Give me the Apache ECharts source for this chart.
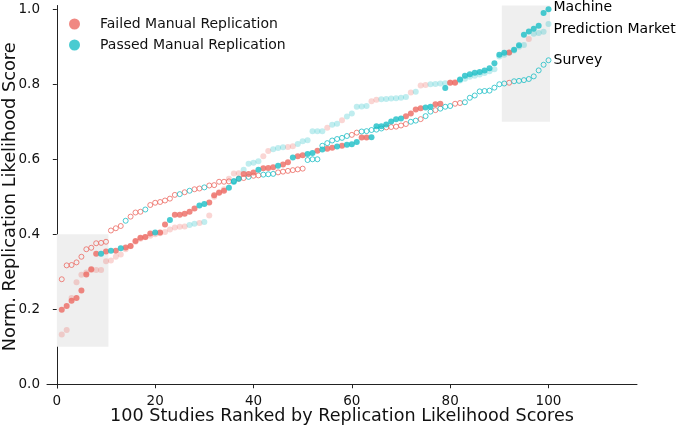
<!DOCTYPE html>
<html><head><meta charset="utf-8">
<script src="https://cdn.jsdelivr.net/npm/echarts@6/dist/echarts.min.js"></script>
<style>html,body{margin:0;padding:0;background:#fff}#c{width:677px;height:427px}</style>
</head><body><div id="c"></div>
<script>
const xTicks = [0, 20, 40, 60, 80, 100];
const yTicks = [0, 0.2, 0.4, 0.6, 0.8, 1.0];
const legendNames = ['Failed Manual Replication', 'Passed Manual Replication'];
const layerNames = ['Machine', 'Prediction Market', 'Survey'];

const machineScores = [0.199,0.209,0.223,0.23,0.25,0.293,0.307,0.348,0.348,0.354,
0.356,0.356,0.363,0.365,0.369,0.382,0.391,0.393,0.402,0.405,
0.405,0.426,0.438,0.452,0.452,0.455,0.46,0.469,0.477,0.481,
0.485,0.504,0.511,0.516,0.524,0.54,0.548,0.561,0.561,0.565,
0.572,0.576,0.577,0.579,0.583,0.586,0.592,0.605,0.608,0.611,
0.614,0.617,0.623,0.626,0.628,0.631,0.634,0.636,0.639,0.64,
0.646,0.658,0.658,0.659,0.688,0.688,0.693,0.701,0.707,0.709,
0.715,0.722,0.733,0.736,0.738,0.74,0.747,0.748,0.79,0.804,
0.804,0.813,0.823,0.827,0.831,0.833,0.837,0.843,0.856,0.879,
0.884,0.885,0.892,0.904,0.932,0.941,0.948,0.956,0.99,1.0];
const machinePassed = [0,0,0,0,0,0,0,0,1,0, 1,0,1,0,0,0,0,0,0,1, 0,0,1,0,0,0,0,0,1,1,
0,0,0,0,1,1,1,0,0,0, 1,0,0,0,1,0,0,1,0,0, 1,1,0,1,0,0,1,0,1,1,
1,0,0,1,1,1,1,1,1,1, 0,0,0,0,1,1,0,0,1,0, 0,1,1,1,1,1,1,1,1,1, 1,0,1,1,1,1,1,1,1,1];

const marketScores = [0.133,0.145,0.23,0.272,0.292,0.298,0.305,0.305,0.305,0.328,
0.33,0.34,0.346,0.36,0.368,0.38,0.388,0.392,0.396,0.4,
0.403,0.406,0.413,0.418,0.42,0.421,0.425,0.428,0.43,0.433,
0.45,0.5,0.512,0.52,0.548,0.562,0.563,0.572,0.588,0.591,
0.595,0.608,0.622,0.627,0.63,0.632,0.633,0.635,0.641,0.648,
0.651,0.675,0.675,0.675,0.684,0.692,0.695,0.704,0.714,0.722,
0.74,0.741,0.742,0.755,0.759,0.76,0.761,0.762,0.763,0.764,
0.766,0.778,0.78,0.797,0.798,0.8,0.801,0.802,0.803,0.805,
0.806,0.81,0.815,0.82,0.823,0.826,0.83,0.835,0.84,0.874,
0.879,0.884,0.89,0.9,0.905,0.921,0.935,0.937,0.94,0.961];
const marketPassed = [0,0,0,0,0,0,0,0,0,0, 0,0,0,0,0,0,0,0,0,0, 0,0,0,0,0,0,1,1,0,1,
0,0,0,0,0,0,0,1,1,1, 1,0,0,1,1,1,0,0,1,1, 1,1,1,1,0,1,1,0,1,1,
1,1,1,0,0,1,1,1,1,1, 1,0,1,0,0,1,1,1,1,0, 0,1,1,1,1,1,1,1,1,1, 1,1,1,1,1,0,1,1,1,1];

const surveyScores = [0.28,0.317,0.318,0.325,0.34,0.36,0.364,0.376,0.377,0.38,
0.41,0.416,0.422,0.436,0.447,0.458,0.46,0.466,0.478,0.484,
0.486,0.49,0.495,0.505,0.507,0.512,0.516,0.52,0.522,0.525,
0.53,0.531,0.54,0.54,0.541,0.542,0.548,0.55,0.553,0.556,
0.557,0.559,0.56,0.561,0.565,0.567,0.569,0.571,0.573,0.575,
0.598,0.6,0.6,0.636,0.643,0.65,0.654,0.657,0.662,0.665,
0.671,0.674,0.675,0.678,0.679,0.682,0.685,0.686,0.687,0.69,
0.694,0.7,0.703,0.707,0.715,0.727,0.731,0.735,0.74,0.742,
0.748,0.75,0.752,0.764,0.77,0.781,0.782,0.783,0.791,0.8,
0.802,0.804,0.808,0.809,0.811,0.814,0.821,0.837,0.852,0.864];
const surveyPassed = [0,0,0,0,0,0,0,0,0,0, 0,0,0,1,0,0,0,1,0,0, 0,0,0,0,1,0,1,0,0,1,
0,0,0,0,0,1,0,0,1,0, 0,1,1,1,0,0,0,0,0,0, 1,1,1,1,1,1,1,1,1,0,
0,1,1,1,1,1,0,0,0,0, 0,1,1,0,1,1,0,1,1,1, 0,0,1,1,1,1,1,1,1,1, 1,0,1,1,1,1,1,1,1,1];

const shadedAreas = [[[0, 0.1], [10.5, 0.4]], [[90.5, 0.7], [100.3, 1.01]]];

const RED = '#EC6A63', TEAL = '#1CBEC5';
const FONT = 'DejaVu Sans';
const TXT = '#000';

function buildSeries(scores, passed, layer, status, style, z, labelOffset) {
  const data = [];
  scores.forEach((v, i) => {
    if (passed[i] !== status) return;
    const item = { value: [i + 1, v] };
    if (i === scores.length - 1) {
      item.label = { show: true, position: 'right', distance: 2, formatter: layer,
        color: TXT, opacity: 1, textBorderWidth: 0, fontSize: 14, fontFamily: FONT, offset: labelOffset };
    }
    data.push(item);
  });
  return Object.assign({ type: 'scatter', name: legendNames[status], data: data, z: z,
    symbol: 'circle', emphasis: { disabled: true }, animation: false }, style);
}

function solid(c) { return { symbolSize: 6, itemStyle: { color: c } }; }
function faded(c) {
  const rgb = c === RED ? '236,106,99' : '28,190,197';
  return { symbolSize: 6, itemStyle: { color: 'rgba(' + rgb + ',0.35)' } };
}
function hollow(c) { return { symbolSize: 5, itemStyle: { color: 'rgba(255,255,255,0)', borderColor: c, borderWidth: 1 } }; }

const series = [];
[0, 1].forEach(s => {
  const c = s ? TEAL : RED;
  series.push(buildSeries(machineScores, machinePassed, layerNames[0], s, solid(c), 5, [0, -2]));
});
[0, 1].forEach(s => {
  const c = s ? TEAL : RED;
  series.push(buildSeries(surveyScores, surveyPassed, layerNames[2], s, hollow(c), 4, [0, 0]));
  series.push(buildSeries(marketScores, marketPassed, layerNames[1], s, faded(c), 3, [0, 5.5]));
});
series.push({
  type: 'scatter', name: 'areas', data: [], z: 1, silent: true,
  markArea: { silent: true, itemStyle: { color: '#efefef' },
    data: shadedAreas.map(a => [{ coord: a[0] }, { coord: a[1] }]) }
});

const chart = echarts.init(document.getElementById('c'), null, { renderer: 'canvas' });
chart.setOption({
  animation: false,
  backgroundColor: '#fff',
  grid: { left: 47, right: 40, top: 5.5, bottom: 39, containLabel: false, outerBoundsMode: 'none' },
  legend: {
    data: [
      { name: legendNames[0], itemStyle: { color: RED } },
      { name: legendNames[1], itemStyle: { color: TEAL } }
    ],
    orient: 'vertical', left: 64, top: 12, icon: 'circle',
    itemWidth: 11, itemHeight: 11, itemGap: 7, selectedMode: false,
    textStyle: { fontFamily: FONT, fontSize: 14, color: '#111', lineHeight: 14, padding: [0, 0, 0, 15] }
  },
  xAxis: {
    type: 'value', min: -2, max: 118,
    name: '100 Studies Ranked by Replication Likelihood Scores',
    nameLocation: 'middle', nameGap: 19, nameMoveOverlap: false,
    nameTextStyle: { fontFamily: FONT, fontSize: 17.6, color: '#111' },
    axisLine: { lineStyle: { color: '#222', width: 1 } },
    axisTick: { show: true, length: 4, customValues: xTicks, lineStyle: { color: '#222' } },
    axisLabel: { customValues: xTicks, fontFamily: FONT, fontSize: 13.5, color: '#111', margin: 6 },
    splitLine: { show: false }
  },
  yAxis: {
    type: 'value', min: -0.01, max: 1.01,
    name: 'Norm. Replication Likelihood Score',
    nameLocation: 'middle', nameGap: 28, nameMoveOverlap: false,
    nameTextStyle: { fontFamily: FONT, fontSize: 17.8, color: '#111' },
    axisLine: { show: true, lineStyle: { color: '#222', width: 1 } },
    axisTick: { show: true, length: 4, customValues: yTicks, lineStyle: { color: '#222' } },
    axisLabel: { customValues: yTicks, fontFamily: FONT, fontSize: 13.5, color: '#111', margin: 7,
      formatter: v => v.toFixed(1) },
    splitLine: { show: false }
  },
  series: series
});
</script></body></html>
